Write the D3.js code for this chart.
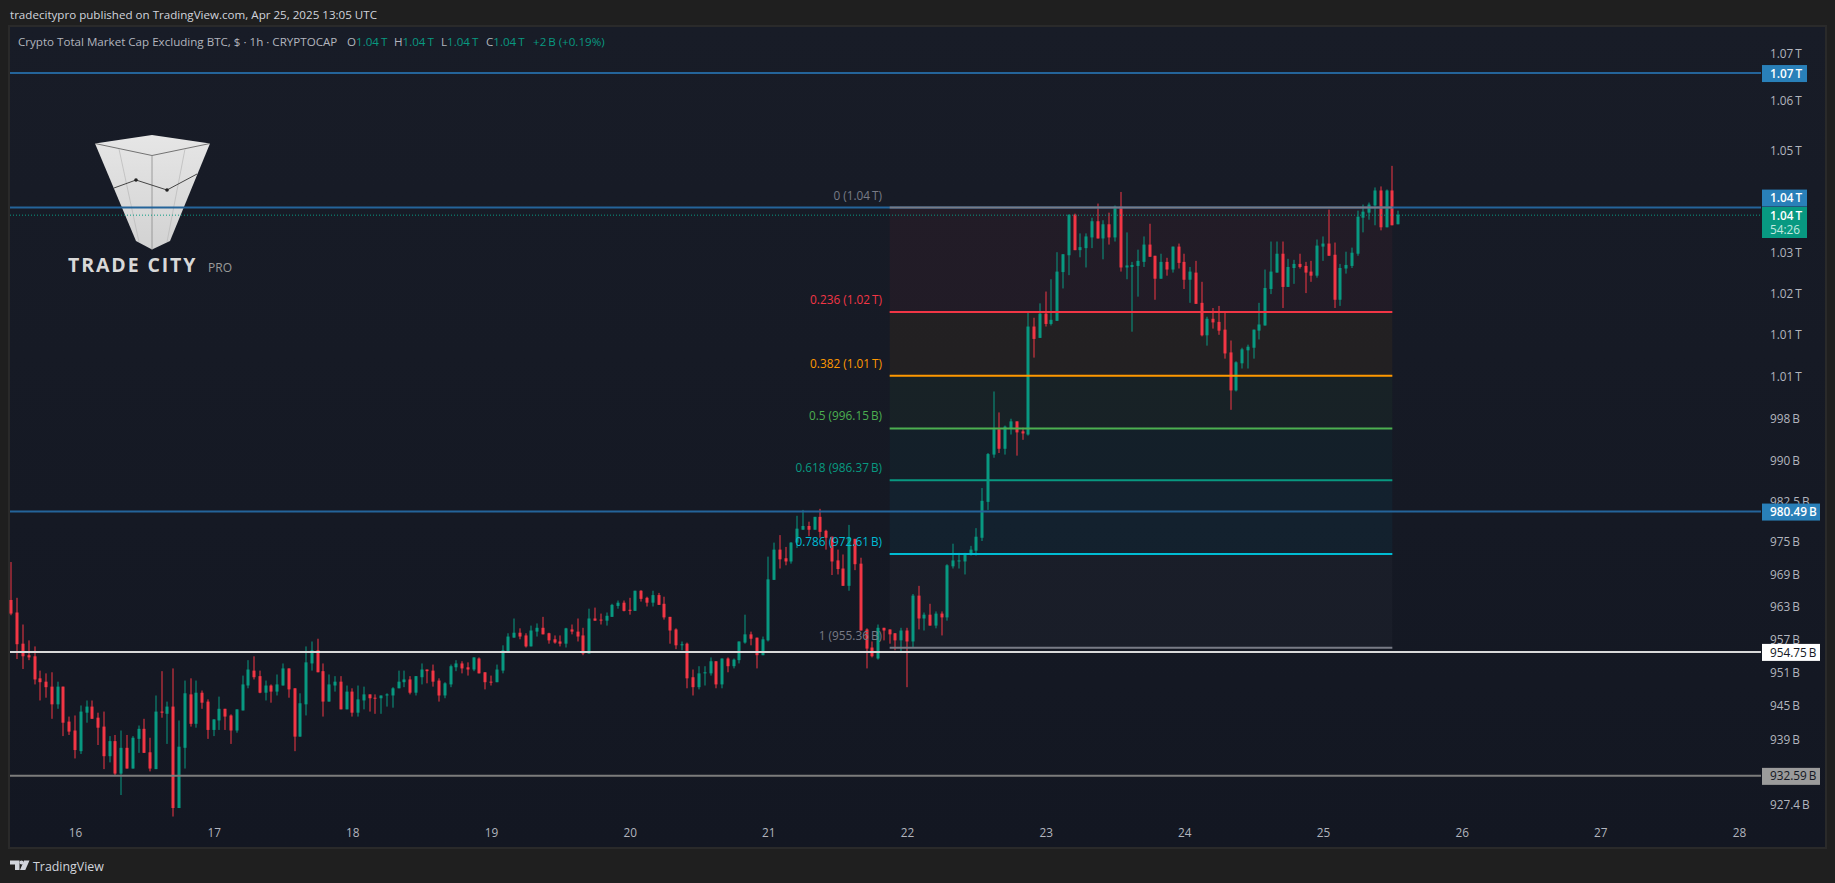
<!DOCTYPE html>
<html>
<head>
<meta charset="utf-8">
<script src="https://cdn.jsdelivr.net/npm/d3@7"></script>
<style>
  html, body { margin: 0; padding: 0; background: #1f1f1f; overflow: hidden; }
  svg { display: block; }
  text { font-family: "Open Sans", sans-serif; }
</style>
</head>
<body>
<svg id="chart" width="1835" height="883"></svg>
<script>
// hourly candles, billions of USD, first one is Apr 15 13:00 UTC
const opens = [
  964.1,961.8,956.1,954.0,953.8,949.8,949.2,948.3,945.1,948.3,
  942.0,940.4,936.7,943.6,944.7,942.7,941.1,935.8,938.5,932.7,
  937.3,933.6,938.9,940.7,936.5,933.5,943.8,943.4,944.7,926.6,
  937.3,946.9,941.6,947.2,945.6,940.5,942.2,944.3,943.1,940.4,
  944.0,948.5,951.2,950.2,947.2,948.5,947.4,948.5,951.6,948.0,
  939.3,945.1,952.5,954.9,951.1,945.6,948.5,949.2,944.2,947.4,
  943.6,945.8,946.9,946.3,946.2,946.7,946.7,948.0,949.1,949.6,
  947.2,950.0,951.4,951.2,949.4,946.7,948.7,951.8,952.5,951.8,
  951.4,953.4,950.9,949.2,949.1,951.2,954.7,957.2,958.1,957.6,
  955.6,958.3,959.0,958.0,956.9,956.5,956.1,958.7,958.3,957.6,
  954.3,960.7,960.5,960.3,961.0,963.0,963.6,962.3,962.1,965.8,
  964.5,963.6,965.0,963.4,961.0,958.7,955.8,956.1,950.0,948.2,
  950.7,950.7,952.9,948.7,953.4,952.0,953.1,956.3,957.8,957.2,
  954.0,956.7,967.8,973.4,971.8,971.2,974.7,977.1,977.8,977.1,
  979.5,976.9,975.8,971.4,969.9,966.7,975.4,970.8,958.7,955.4,
  953.4,959.0,958.7,958.0,956.7,958.5,956.5,964.9,960.7,961.4,
  959.4,961.6,960.9,970.3,971.2,971.2,972.5,973.2,975.6,982.3,
  991.2,996.0,992.3,996.1,997.5,995.6,995.0,1015.7,1013.5,1018.2,
  1016.2,1016.8,1026.3,1029.6,1037.6,1030.6,1031.0,1033.1,1036.3,1032.9,
  1035.7,1033.1,1039.2,1027.2,1027.3,1027.5,1028.3,1031.7,1029.5,1025.0,
  1028.3,1026.8,1031.3,1028.3,1024.8,1026.2,1020.3,1014.0,1017.2,1016.6,
  1015.1,1010.7,1003.4,1008.6,1011.1,1011.6,1014.9,1015.9,1023.0,1026.2,
  1029.9,1023.4,1027.1,1027.9,1027.5,1026.4,1025.6,1031.3,1031.9,1029.7,
  1020.9,1027.0,1027.5,1029.9,1037.0,1038.0,1039.4,1042.4,1035.1,1042.4,1035.7
];
const highs = [
  971.1,964.5,959.6,956.7,955.6,951.2,950.7,950.9,949.2,948.3,
  942.9,943.1,944.9,945.8,945.8,943.6,943.8,939.4,939.6,940.4,
  939.6,939.4,941.3,942.5,939.1,946.7,951.1,945.6,951.6,942.2,
  949.4,949.8,949.4,947.6,946.0,942.4,946.5,944.3,943.3,944.2,
  950.3,953.1,953.8,951.2,949.4,948.7,950.5,952.5,951.6,948.0,
  947.1,955.6,956.5,957.0,952.5,950.5,950.2,950.2,948.5,948.0,
  948.5,948.3,946.9,946.9,946.7,947.1,948.2,951.2,951.2,950.2,
  950.2,952.5,951.4,952.3,949.8,949.1,952.3,953.1,952.9,952.7,
  953.6,953.6,950.9,950.3,952.3,955.8,958.0,960.7,958.9,958.0,
  959.4,959.8,961.0,958.1,957.6,957.6,959.0,959.6,960.7,959.0,
  962.5,962.7,961.6,961.8,963.4,964.0,964.0,964.5,965.8,965.9,
  964.7,965.8,965.4,964.7,961.0,958.9,956.5,956.3,951.4,952.0,
  952.0,953.6,952.9,953.4,953.6,953.4,956.5,961.4,958.3,957.2,
  957.4,972.1,974.7,976.1,973.9,974.8,979.7,980.8,978.6,979.5,
  981.0,977.1,975.8,973.4,972.5,978.0,975.4,971.9,958.9,956.5,
  959.6,959.0,958.7,958.0,959.0,959.0,965.2,966.7,961.8,963.4,
  962.0,962.0,970.7,974.5,972.8,972.8,974.1,977.4,984.9,991.5,
  1003.2,999.2,996.7,998.0,997.5,996.3,1018.6,1017.4,1020.2,1022.5,
  1024.9,1030.2,1029.8,1037.6,1037.8,1033.9,1033.9,1037.0,1039.8,1036.5,
  1038.0,1039.4,1042.1,1034.1,1028.3,1030.7,1033.3,1035.8,1029.5,1029.9,
  1029.1,1031.3,1031.9,1029.9,1027.3,1028.5,1024.4,1017.6,1019.3,1019.7,
  1018.4,1013.0,1009.0,1011.6,1012.2,1015.1,1020.3,1026.8,1032.3,1032.3,
  1032.3,1028.9,1028.7,1029.9,1028.3,1028.5,1032.7,1033.3,1038.6,1032.1,
  1027.9,1030.3,1031.1,1038.4,1039.6,1040.0,1043.0,1043.2,1042.6,1047.3,1038.4
];
const lows = [
  961.3,953.3,951.5,953.1,948.7,945.8,946.3,942.5,944.3,939.4,
  939.6,935.4,936.2,941.8,942.5,937.8,933.5,934.7,932.4,928.9,
  933.6,933.6,936.4,936.4,933.1,933.5,942.7,938.0,925.1,926.6,
  933.6,941.1,940.9,944.3,938.9,939.4,940.5,940.5,938.0,940.0,
  944.0,948.0,949.6,947.1,945.8,945.4,946.7,948.5,946.3,936.7,
  939.3,943.1,951.2,950.9,942.9,945.6,947.4,944.2,944.2,942.9,
  942.9,944.2,943.8,943.4,943.4,944.7,944.5,948.0,948.2,946.9,
  946.7,948.7,948.9,948.3,945.6,946.2,948.2,951.1,950.7,950.3,
  951.1,950.7,947.8,948.5,949.1,950.7,954.7,957.2,956.9,955.4,
  955.6,957.4,957.8,956.1,956.1,955.6,955.4,957.8,956.5,954.0,
  954.3,960.3,959.6,959.4,961.0,962.5,962.0,961.4,962.1,963.8,
  962.9,962.9,963.2,960.5,956.1,955.1,954.9,948.0,946.7,947.8,
  948.5,950.3,948.0,948.0,950.9,951.6,952.5,956.1,955.8,951.6,
  954.0,956.5,967.8,969.9,970.5,970.8,973.7,977.1,975.9,977.1,
  975.6,973.4,968.7,968.8,966.7,965.8,969.6,958.5,951.6,953.6,
  953.2,956.7,956.1,954.9,954.5,948.2,955.4,958.7,958.5,959.4,
  958.9,957.6,960.3,969.9,969.9,968.8,972.3,972.3,975.0,980.8,
  990.6,991.5,991.2,995.0,991.0,994.0,994.8,1009.7,1013.5,1015.7,
  1015.9,1016.8,1023.1,1025.7,1030.6,1029.2,1027.2,1031.0,1032.9,1028.8,
  1031.7,1032.3,1026.4,1024.9,1014.7,1021.5,1027.3,1029.3,1020.9,1025.0,
  1025.6,1026.2,1027.0,1023.0,1020.3,1020.1,1013.8,1012.0,1015.3,1014.1,
  1009.5,999.7,1003.2,1007.6,1007.6,1009.5,1013.2,1015.9,1022.0,1026.2,
  1019.3,1023.4,1024.0,1027.0,1022.2,1024.4,1025.2,1028.5,1029.5,1019.3,
  1019.7,1026.0,1027.1,1029.5,1034.1,1036.6,1035.5,1034.5,1035.1,1035.5,1035.7
];
const closes = [
  961.6,956.0,953.8,953.6,949.6,949.1,948.2,945.1,948.3,941.8,
  940.2,936.9,943.8,944.7,942.5,940.9,935.8,938.5,932.7,937.3,
  933.6,939.1,940.7,936.4,933.6,943.8,943.6,944.7,926.6,937.5,
  947.1,941.6,947.2,945.4,940.5,942.4,944.3,942.9,940.4,944.2,
  948.7,951.4,950.0,947.2,948.5,947.4,948.7,951.6,947.8,939.3,
  945.3,952.7,954.9,950.9,945.6,948.7,949.2,944.2,947.4,943.6,
  946.0,946.9,946.2,946.2,946.7,946.9,948.0,949.2,949.6,947.2,
  950.2,951.4,951.1,949.2,946.7,948.9,952.0,952.5,951.6,951.4,
  953.6,950.7,949.1,949.1,951.4,954.9,957.4,958.1,957.4,955.6,
  958.5,959.0,957.8,956.7,956.3,956.1,958.9,958.3,957.4,954.3,
  960.7,960.3,960.4,961.2,963.2,963.6,962.1,962.1,965.8,964.3,
  963.6,965.0,963.2,960.9,958.5,955.8,956.0,949.8,948.2,950.7,
  950.9,952.9,948.7,953.4,952.0,953.2,956.5,957.8,957.0,954.0,
  956.9,967.9,973.4,971.6,971.2,974.7,977.3,977.8,977.1,979.5,
  976.7,975.6,971.2,969.8,966.7,975.6,970.7,958.5,955.2,953.8,
  959.0,958.5,957.8,956.7,958.5,956.5,964.9,960.7,961.4,959.4,
  961.6,960.9,970.5,971.4,971.4,972.7,973.4,975.8,982.5,991.3,
  996.0,992.3,996.5,997.5,995.4,995.2,1015.7,1013.3,1018.2,1016.2,
  1017.0,1026.4,1029.8,1037.6,1030.6,1031.2,1033.3,1036.3,1032.9,1035.7,
  1033.1,1039.2,1027.2,1027.6,1027.7,1028.5,1031.7,1029.3,1025.0,1028.3,
  1026.8,1031.3,1028.1,1024.8,1026.4,1020.1,1014.0,1017.2,1016.5,1014.9,
  1010.5,1003.4,1008.8,1011.3,1011.8,1015.1,1016.1,1023.2,1026.4,1029.9,
  1023.4,1027.3,1027.9,1027.3,1026.2,1025.6,1031.5,1031.9,1029.5,1020.9,
  1027.1,1027.7,1030.1,1037.2,1038.2,1039.6,1042.4,1035.1,1042.4,1035.5,1037.6
];

const dayTicks = [16,17,18,19,20,21,22,23,24,25,26,27,28];
const priceTicks = [1070,1060.4,1050.4,1030,1022,1014.1,1006.1,998,990,982.3,974.8,968.8,962.8,956.8,950.8,944.8,938.8,927.2];
const priceTickLabels = ["1.07\u2009T","1.06\u2009T","1.05\u2009T","1.03\u2009T","1.02\u2009T","1.01\u2009T","1.01\u2009T",
  "998\u2009B","990\u2009B","982.5\u2009B","975\u2009B","969\u2009B","963\u2009B","957\u2009B","951\u2009B","945\u2009B","939\u2009B","927.4\u2009B"];

// horizontal levels drawn by hand on the chart
const levelValues = [1066, 1039, 980.49, 954.6, 932.3];
const levelLabels = ["1.07\u2009T","1.04\u2009T","980.49\u2009B","954.75\u2009B","932.59\u2009B"];
const levelColors = ["#24649a","#24649a","#24649a","#d9d9d9","#7c7c7c"];
const levelBoxColors = ["#2980b9","#2980b9","#2980b9","#ffffff","#9b9b9b"];
const levelTextColors = ["#ffffff","#ffffff","#ffffff","#131722","#131722"];

// fib retracement
const fibRatios = ["0","0.236","0.382","0.5","0.618","0.786","1"];
const fibValues = [1039, 1018.5, 1006.2, 996.15, 986.37, 972.61, 955.36];
const fibPrices = ["1.04\u2009T","1.02\u2009T","1.01\u2009T","996.15\u2009B","986.37\u2009B","972.61\u2009B","955.36\u2009B"];
const fibColors = ["#787b86","#f23645","#ff9800","#4caf50","#089981","#00bcd4","#787b86"];

const lastPrice = 1037.5;
const upColor = "#089981", downColor = "#f23645";

const svg = d3.select("#chart");
const W = 1835, H = 883;
const pane = {left: 10, right: 1825, top: 27, bottom: 847};
const lineEnd = 1761;

const x = d3.scaleUtc()
  .domain([new Date(Date.UTC(2025,3,16)), new Date(Date.UTC(2025,3,28))])
  .range([75, 1739]);
const y = d3.scaleLog()
  .domain([919.74, 1075.4])
  .range([pane.bottom, pane.top]);

const defs = svg.append("defs");
const paneGrad = defs.append("linearGradient").attr("id","paneGrad").attr("x1",0).attr("x2",0).attr("y1",0).attr("y2",1);
paneGrad.append("stop").attr("offset","0%").attr("stop-color","#181c27");
paneGrad.append("stop").attr("offset","100%").attr("stop-color","#131722");
const logoGrad = defs.append("linearGradient").attr("id","logoGrad").attr("x1",0).attr("x2",0).attr("y1",0).attr("y2",1);
logoGrad.append("stop").attr("offset","0%").attr("stop-color","#e6e6e6");
logoGrad.append("stop").attr("offset","100%").attr("stop-color","#d2d2d2");

svg.append("rect").attr("width",W).attr("height",H).attr("fill","#1f1f1f");
svg.append("rect")
  .attr("x",pane.left-1).attr("y",pane.top-1)
  .attr("width",pane.right-pane.left+2).attr("height",pane.bottom-pane.top+2)
  .attr("fill","url(#paneGrad)").attr("stroke","#2a2a2a").attr("stroke-width",2);

// header and footer
svg.append("text").attr("x",10).attr("y",19).attr("font-size",11.6).attr("fill","#d1d4dc")
  .text("tradecitypro published on TradingView.com, Apr 25, 2025 13:05 UTC");

const legend = svg.append("text").attr("x",18).attr("y",46).attr("font-size",11.6).attr("fill","#b2b5be");
legend.append("tspan").text("Crypto Total Market Cap Excluding BTC, $ \u00b7 1h \u00b7 CRYPTOCAP");
[["O",347],["H",394],["L",441],["C",486]].forEach(([k,px]) => {
  legend.append("tspan").attr("x",px).text(k);
  legend.append("tspan").attr("fill",upColor).text("1.04\u2009T");
});
legend.append("tspan").attr("x",533).attr("fill",upColor).text("+2\u2009B (+0.19%)");

svg.append("path").attr("fill","#d1d4dc")
  .attr("d","M10 860.5h9.5v9.5h-4.5v-5.5h-5z M24 860.5h5.5l-4.2 9.5h-5.3z");
svg.append("circle").attr("cx",21.5).attr("cy",862.6).attr("r",2).attr("fill","#d1d4dc");
svg.append("text").attr("x",33).attr("y",870.5).attr("font-size",12.4).attr("fill","#d1d4dc").text("TradingView");

// watermark logo
const logo = svg.append("g");
logo.append("path").attr("fill","url(#logoGrad)")
  .attr("d","M95 143.5L152 135L210 143.5L170 241L152 249.5L136 241Z");
logo.append("path").attr("fill","none").attr("stroke","#555").attr("stroke-width",0.8)
  .attr("d","M95 143.5L152 155.5L210 143.5");
logo.append("path").attr("fill","none").attr("stroke","#8a8a8a").attr("stroke-width",0.8)
  .attr("d","M152 155.5V249.5");
logo.append("path").attr("fill","none").attr("stroke","#bcbcbc").attr("stroke-width",0.8)
  .attr("d","M119 149L139 242M185 149L167 242");
logo.append("path").attr("fill","none").attr("stroke","#333").attr("stroke-width",0.9)
  .attr("d","M114 188L136 180L167 190L197 174");
logo.selectAll("circle").data([[136,180],[167,190]]).join("circle")
  .attr("cx",d=>d[0]).attr("cy",d=>d[1]).attr("r",1.8).attr("fill","#222");
logo.append("text").attr("x",68).attr("y",272).attr("font-size",19.5).attr("font-weight",700)
  .attr("letter-spacing",1.9).attr("fill","#d8d8d8").text("TRADE CITY");
logo.append("text").attr("x",208).attr("y",272).attr("font-size",12).attr("fill","#9a9a9a").text("PRO");

// fib zones go under the candles
const fibLeft = x(new Date(Date.UTC(2025,3,21,21)));
const fibRight = x(new Date(Date.UTC(2025,3,25,12)));
svg.append("g").selectAll("rect").data(fibValues.slice(1)).join("rect")
  .attr("x",fibLeft).attr("width",fibRight-fibLeft)
  .attr("y",(d,i)=>y(fibValues[i]))
  .attr("height",(d,i)=>y(d)-y(fibValues[i]))
  .attr("fill",(d,i)=>fibColors[i+1]).attr("fill-opacity",0.055);

// candles
const firstCandle = Date.UTC(2025,3,15,13);
const candles = opens.map((o,i) => ({
  t: new Date(firstCandle + i*3600*1000), o, h: highs[i], l: lows[i], c: closes[i]
}));
const candleG = svg.append("g").selectAll("g").data(candles).join("g")
  .attr("fill",d=>d.c>=d.o?upColor:downColor);
candleG.append("rect").attr("class","wick")
  .attr("x",d=>Math.round(x(d.t))-0.5).attr("width",1)
  .attr("y",d=>y(d.h)).attr("height",d=>y(d.l)-y(d.h));
candleG.append("rect").attr("class","body")
  .attr("x",d=>Math.round(x(d.t))-1.5).attr("width",3)
  .attr("y",d=>y(Math.max(d.o,d.c)))
  .attr("height",d=>Math.max(1,Math.abs(y(d.o)-y(d.c))));

// last price dotted line
svg.append("line").attr("x1",pane.left).attr("x2",lineEnd)
  .attr("y1",y(lastPrice)).attr("y2",y(lastPrice))
  .attr("stroke",upColor).attr("stroke-width",1).attr("stroke-dasharray","1 2");

// horizontal levels
svg.append("g").selectAll("line").data(levelValues).join("line")
  .attr("x1",pane.left).attr("x2",lineEnd)
  .attr("y1",d=>y(d)).attr("y2",d=>y(d))
  .attr("stroke",(d,i)=>levelColors[i]).attr("stroke-width",2);

// fib lines and labels
svg.append("g").selectAll("line").data(fibValues).join("line")
  .attr("x1",fibLeft).attr("x2",fibRight)
  .attr("y1",d=>y(d)).attr("y2",d=>y(d))
  .attr("stroke",(d,i)=>fibColors[i]).attr("stroke-width",2);
svg.append("g").selectAll("text").data(fibValues).join("text")
  .attr("x",882).attr("y",d=>y(d)-8).attr("text-anchor","end").attr("font-size",11.8)
  .attr("fill",(d,i)=>fibColors[i])
  .text((d,i)=>fibRatios[i]+" ("+fibPrices[i]+")");

// axes
const yAxis = d3.axisRight(y).tickValues(priceTicks).tickSize(0).tickPadding(0)
  .tickFormat((d,i)=>priceTickLabels[i]);
const yG = svg.append("g").attr("transform","translate(1770,0)").call(yAxis);
yG.select(".domain").remove();
yG.selectAll("text").attr("font-size",11.8).attr("fill","#b2b5be");

const xAxis = d3.axisBottom(x).tickSize(0).tickPadding(0)
  .tickValues(dayTicks.map(d=>new Date(Date.UTC(2025,3,d))))
  .tickFormat(d3.utcFormat("%-d"));
const xG = svg.append("g").attr("transform","translate(0,829)").call(xAxis);
xG.select(".domain").remove();
xG.selectAll("text").attr("font-size",11.8).attr("fill","#b2b5be").attr("dy","0.7em");

// price labels on the axis, the 982.5 B tick stays partly visible behind its box
const boxes = svg.append("g");
levelValues.forEach((v,i) => {
  const cy = i===1 ? y(v)-9.5 : y(v)+0.5;
  const w = levelLabels[i].endsWith("T") ? 45 : 58;
  boxes.append("rect").attr("x",1762).attr("y",cy-8.5).attr("width",w).attr("height",17).attr("fill",levelBoxColors[i]);
  boxes.append("text").attr("x",1770).attr("y",cy).attr("dy","0.35em").attr("font-size",11.8)
    .attr("font-weight",i<3?600:400).attr("fill",levelTextColors[i]).text(levelLabels[i]);
});
boxes.append("rect").attr("x",1762).attr("y",207).attr("width",45).attr("height",31).attr("fill",upColor);
boxes.append("text").attr("x",1770).attr("y",216).attr("dy","0.35em").attr("font-size",11.8).attr("font-weight",600).attr("fill","#ffffff").text("1.04\u2009T");
boxes.append("text").attr("x",1770).attr("y",230).attr("dy","0.35em").attr("font-size",11.8).attr("fill","#c3e9e0").text("54:26");
</script>
</body>
</html>
